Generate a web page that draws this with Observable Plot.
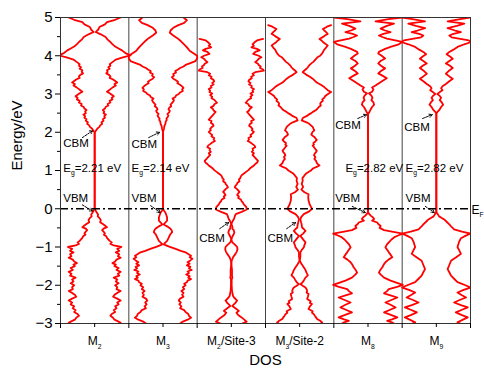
<!DOCTYPE html>
<html><head><meta charset="utf-8">
<script src="https://cdn.jsdelivr.net/npm/d3@7"></script>
<script src="https://cdn.jsdelivr.net/npm/@observablehq/plot@0.6"></script>
<style>
body{margin:0;background:#fff;}
svg{font-family:"Liberation Sans",Arial,sans-serif;}
</style>
</head><body><div id="chart"></div>
<script>
// ---------- data ----------
const panelLabels = ["M_2", "M_3", "M_2/Site-3", "M_3/Site-2", "M_8", "M_9"];
const yMajorTicks = [-3, -2, -1, 0, 1, 2, 3, 4, 5];
const yMinorTicks = [-2.5, -1.5, -0.5, 0.5, 1.5, 2.5, 3.5, 4.5];
const gapLabels = ["E_g=2.21 eV", "E_g=2.14 eV", "E_g=2.82 eV", "E_g=2.82 eV"];

// [energy (eV), DOS half-width (fraction of half panel)]
const dosM2 = [[5.0,0.76],[4.94,0.6],[4.88,0.36],[4.82,0.3],[4.75,0.14],[4.68,0.1],[4.62,0.03],[4.56,0.18],[4.49,0.32],[4.42,0.38],[4.36,0.46],[4.31,0.51],[4.24,0.6],[4.19,0.7],[4.14,0.8],[4.07,0.9],[4.01,1.05],[3.95,0.8],[3.9,0.62],[3.86,0.56],[3.82,0.5],[3.78,0.44],[3.74,0.46],[3.7,0.4],[3.66,0.44],[3.62,0.36],[3.58,0.38],[3.54,0.34],[3.5,0.42],[3.46,0.46],[3.42,0.44],[3.38,0.54],[3.34,0.6],[3.3,0.66],[3.26,0.58],[3.22,0.62],[3.18,0.54],[3.14,0.48],[3.1,0.42],[3.06,0.36],[3.02,0.44],[2.98,0.5],[2.94,0.56],[2.9,0.5],[2.86,0.52],[2.82,0.44],[2.78,0.46],[2.74,0.38],[2.7,0.4],[2.66,0.32],[2.62,0.3],[2.58,0.24],[2.54,0.28],[2.5,0.26],[2.46,0.33],[2.42,0.28],[2.38,0.3],[2.34,0.24],[2.3,0.26],[2.26,0.2],[2.22,0.22],[2.18,0.16],[2.14,0.14],[2.1,0.08],[2.06,0.05],[2.02,0.02],[2.0,0],[0,0],[-0.05,0.03],[-0.1,0.06],[-0.15,0.1],[-0.2,0.09],[-0.25,0.15],[-0.3,0.18],[-0.35,0.16],[-0.4,0.24],[-0.44,0.3],[-0.48,0.36],[-0.52,0.26],[-0.56,0.22],[-0.6,0.26],[-0.64,0.3],[-0.68,0.27],[-0.72,0.34],[-0.76,0.36],[-0.8,0.4],[-0.84,0.44],[-0.88,0.5],[-0.92,0.46],[-0.96,0.56],[-1.0,0.78],[-1.05,0.66],[-1.1,0.72],[-1.14,0.62],[-1.19,0.72],[-1.24,0.68],[-1.28,0.76],[-1.33,0.64],[-1.38,0.6],[-1.42,0.52],[-1.46,0.62],[-1.5,0.58],[-1.55,0.7],[-1.6,0.64],[-1.65,0.76],[-1.7,0.68],[-1.75,0.72],[-1.8,0.56],[-1.85,0.66],[-1.9,0.62],[-1.95,0.7],[-2.0,0.6],[-2.05,0.66],[-2.1,0.64],[-2.15,0.76],[-2.2,0.66],[-2.25,0.58],[-2.3,0.54],[-2.35,0.66],[-2.4,0.76],[-2.45,0.66],[-2.5,0.7],[-2.55,0.6],[-2.6,0.64],[-2.65,0.56],[-2.7,0.6],[-2.75,0.5],[-2.8,0.46],[-2.85,0.54],[-2.9,0.58],[-2.95,0.7],[-2.98,0.76],[-3.0,0.7]];

const dosM3 = [[5.0,0.6],[4.93,0.7],[4.86,0.62],[4.8,0.45],[4.73,0.3],[4.66,0.22],[4.6,0.2],[4.53,0.3],[4.46,0.42],[4.4,0.5],[4.33,0.58],[4.26,0.66],[4.2,0.72],[4.13,0.78],[4.06,0.9],[4.0,1.0],[3.93,1.0],[3.86,0.95],[3.8,0.78],[3.76,0.66],[3.72,0.6],[3.68,0.5],[3.64,0.44],[3.6,0.36],[3.56,0.38],[3.52,0.3],[3.48,0.32],[3.44,0.26],[3.4,0.3],[3.36,0.38],[3.32,0.44],[3.28,0.42],[3.24,0.5],[3.2,0.56],[3.16,0.6],[3.12,0.56],[3.08,0.58],[3.04,0.5],[3.0,0.46],[2.96,0.38],[2.92,0.36],[2.88,0.28],[2.84,0.32],[2.8,0.3],[2.76,0.26],[2.72,0.22],[2.68,0.24],[2.64,0.18],[2.6,0.16],[2.56,0.2],[2.52,0.18],[2.48,0.13],[2.44,0.16],[2.4,0.14],[2.36,0.1],[2.32,0.11],[2.28,0.08],[2.22,0.07],[2.16,0.04],[2.1,0.03],[2.04,0.01],[2.0,0],[0,0],[-0.05,0.03],[-0.1,0.07],[-0.17,0.1],[-0.23,0.12],[-0.31,0.12],[-0.36,0.07],[-0.41,0.02],[-0.46,0.12],[-0.52,0.22],[-0.56,0.25],[-0.61,0.27],[-0.66,0.22],[-0.71,0.19],[-0.77,0.16],[-0.84,0.12],[-0.89,0.06],[-0.93,0.02],[-0.99,0.18],[-1.05,0.37],[-1.1,0.52],[-1.14,0.66],[-1.19,0.75],[-1.23,0.82],[-1.27,0.78],[-1.31,0.86],[-1.35,0.8],[-1.4,0.72],[-1.44,0.78],[-1.48,0.7],[-1.52,0.8],[-1.56,0.76],[-1.6,0.84],[-1.64,0.72],[-1.68,0.76],[-1.72,0.68],[-1.76,0.78],[-1.8,0.74],[-1.84,0.82],[-1.88,0.72],[-1.92,0.7],[-1.96,0.62],[-2.0,0.66],[-2.05,0.58],[-2.1,0.62],[-2.15,0.54],[-2.2,0.6],[-2.25,0.56],[-2.3,0.6],[-2.35,0.5],[-2.4,0.46],[-2.45,0.52],[-2.5,0.48],[-2.55,0.54],[-2.6,0.5],[-2.65,0.62],[-2.7,0.66],[-2.75,0.74],[-2.8,0.76],[-2.85,0.82],[-2.9,0.72],[-2.95,0.58],[-3.0,0.5]];

const dosM2Site3 = [[4.44,0.93],[4.4,0.75],[4.36,0.69],[4.3,0.62],[4.26,0.66],[4.22,0.59],[4.18,0.75],[4.14,0.83],[4.1,0.7],[4.05,0.64],[4.0,0.8],[3.96,0.88],[3.92,0.8],[3.88,0.76],[3.83,0.7],[3.79,0.78],[3.76,0.8],[3.72,0.86],[3.68,0.84],[3.64,0.93],[3.61,0.95],[3.57,0.7],[3.53,0.62],[3.49,0.66],[3.45,0.58],[3.41,0.6],[3.37,0.52],[3.33,0.5],[3.29,0.56],[3.25,0.52],[3.21,0.6],[3.17,0.58],[3.13,0.66],[3.09,0.62],[3.05,0.64],[3.01,0.56],[2.97,0.62],[2.93,0.56],[2.89,0.58],[2.85,0.5],[2.81,0.46],[2.77,0.42],[2.73,0.5],[2.69,0.52],[2.65,0.6],[2.61,0.54],[2.57,0.52],[2.53,0.46],[2.49,0.5],[2.45,0.54],[2.41,0.58],[2.37,0.62],[2.33,0.66],[2.29,0.58],[2.25,0.6],[2.21,0.54],[2.17,0.52],[2.13,0.58],[2.09,0.62],[2.05,0.6],[2.01,0.66],[1.97,0.62],[1.93,0.56],[1.89,0.58],[1.85,0.5],[1.81,0.52],[1.77,0.48],[1.73,0.56],[1.69,0.62],[1.65,0.68],[1.61,0.7],[1.57,0.62],[1.53,0.64],[1.49,0.6],[1.45,0.66],[1.41,0.62],[1.37,0.66],[1.33,0.7],[1.29,0.74],[1.25,0.78],[1.21,0.76],[1.17,0.7],[1.13,0.66],[1.09,0.6],[1.05,0.54],[1.01,0.5],[0.97,0.44],[0.93,0.38],[0.89,0.32],[0.85,0.28],[0.8,0.26],[0.76,0.22],[0.72,0.24],[0.68,0.18],[0.64,0.16],[0.6,0.12],[0.56,0.1],[0.52,0.16],[0.48,0.2],[0.44,0.24],[0.4,0.2],[0.36,0.17],[0.32,0.22],[0.28,0.2],[0.24,0.28],[0.2,0.3],[0.16,0.34],[0.12,0.36],[0.08,0.4],[0.04,0.44],[-0.02,0.45],[-0.08,0.3],[-0.14,0.13],[-0.2,0.1],[-0.26,0.08],[-0.32,0.04],[-0.4,0.0],[-0.46,0.03],[-0.52,0.03],[-0.56,0.07],[-0.62,0.09],[-0.68,0.06],[-0.75,0.02],[-0.81,0.0],[-0.88,0.03],[-0.95,0.12],[-1.0,0.17],[-1.06,0.18],[-1.12,0.16],[-1.18,0.12],[-1.27,0.05],[-1.36,0.01],[-1.45,0.0],[-1.6,0.02],[-1.75,0.02],[-1.8,0.03],[-1.85,0.01],[-2.0,0.01],[-2.15,0.02],[-2.28,0.05],[-2.32,0.08],[-2.4,0.17],[-2.46,0.12],[-2.54,0.03],[-2.6,0.12],[-2.67,0.22],[-2.72,0.15],[-2.78,0.2],[-2.84,0.3],[-2.9,0.38],[-2.95,0.45],[-3.0,0.32]];

const dosM3Site2 = [[4.8,0.92],[4.76,0.8],[4.7,0.68],[4.66,0.72],[4.63,0.76],[4.57,0.82],[4.53,0.74],[4.5,0.7],[4.44,0.58],[4.4,0.64],[4.36,0.68],[4.31,0.76],[4.27,0.82],[4.2,0.76],[4.16,0.72],[4.13,0.7],[4.09,0.68],[4.04,0.64],[4.0,0.6],[3.96,0.52],[3.92,0.48],[3.88,0.44],[3.84,0.4],[3.8,0.34],[3.75,0.28],[3.7,0.24],[3.66,0.2],[3.6,0.12],[3.57,0.09],[3.53,0.16],[3.5,0.2],[3.45,0.3],[3.4,0.38],[3.35,0.44],[3.3,0.5],[3.24,0.62],[3.18,0.72],[3.1,0.82],[3.05,0.92],[2.98,0.8],[2.94,0.74],[2.9,0.72],[2.86,0.66],[2.82,0.68],[2.78,0.62],[2.74,0.6],[2.7,0.62],[2.66,0.56],[2.62,0.52],[2.58,0.48],[2.54,0.4],[2.5,0.34],[2.46,0.26],[2.42,0.2],[2.38,0.1],[2.31,0.06],[2.26,0.2],[2.22,0.28],[2.18,0.33],[2.14,0.38],[2.1,0.4],[2.05,0.43],[2.01,0.38],[1.98,0.36],[1.94,0.34],[1.91,0.38],[1.87,0.44],[1.84,0.46],[1.8,0.5],[1.76,0.46],[1.72,0.4],[1.68,0.42],[1.65,0.38],[1.61,0.42],[1.56,0.46],[1.52,0.5],[1.48,0.48],[1.44,0.44],[1.4,0.42],[1.35,0.46],[1.3,0.43],[1.25,0.48],[1.2,0.5],[1.16,0.54],[1.13,0.58],[1.09,0.48],[1.06,0.4],[1.0,0.33],[0.93,0.2],[0.87,0.14],[0.8,0.08],[0.73,0.09],[0.65,0.06],[0.57,0.1],[0.5,0.05],[0.43,0.14],[0.38,0.26],[0.3,0.25],[0.21,0.26],[0.1,0.3],[0.0,0.36],[-0.07,0.28],[-0.14,0.12],[-0.21,0.05],[-0.27,0.02],[-0.35,0.04],[-0.42,0.06],[-0.49,0.07],[-0.53,0.12],[-0.58,0.17],[-0.65,0.1],[-0.71,0.02],[-0.8,0.1],[-0.88,0.17],[-0.95,0.14],[-1.01,0.12],[-1.08,0.06],[-1.14,0.02],[-1.25,0.02],[-1.36,0.0],[-1.45,0.06],[-1.53,0.12],[-1.6,0.17],[-1.67,0.2],[-1.74,0.24],[-1.8,0.17],[-1.86,0.13],[-1.93,0.08],[-1.97,0.02],[-2.02,0.1],[-2.06,0.17],[-2.1,0.2],[-2.15,0.22],[-2.19,0.2],[-2.23,0.26],[-2.3,0.24],[-2.36,0.22],[-2.42,0.32],[-2.46,0.3],[-2.49,0.36],[-2.55,0.3],[-2.62,0.26],[-2.68,0.38],[-2.72,0.36],[-2.75,0.41],[-2.82,0.46],[-2.88,0.51],[-2.93,0.6],[-2.97,0.66],[-3.0,0.62]];

const dosM8 = [[5.0,1.0],[4.96,0.6],[4.9,0.22],[4.84,0.76],[4.78,0.55],[4.71,0.37],[4.66,0.5],[4.62,0.66],[4.57,0.45],[4.53,0.32],[4.49,0.42],[4.45,0.55],[4.4,0.8],[4.36,1.0],[4.3,0.9],[4.23,0.66],[4.18,0.5],[4.14,0.41],[4.1,0.32],[4.06,0.3],[4.0,0.4],[3.93,0.5],[3.87,0.38],[3.8,0.3],[3.74,0.38],[3.67,0.5],[3.6,0.38],[3.54,0.3],[3.48,0.42],[3.41,0.55],[3.34,0.42],[3.28,0.32],[3.22,0.22],[3.17,0.12],[3.12,0.16],[3.06,0.12],[3.02,0.03],[2.96,0.1],[2.9,0.13],[2.84,0.1],[2.78,0.16],[2.72,0.18],[2.66,0.12],[2.6,0.08],[2.53,0.04],[2.47,0],[-0.09,0],[-0.14,0.04],[-0.18,0.08],[-0.22,0.14],[-0.27,0.18],[-0.31,0.12],[-0.36,0.27],[-0.4,0.3],[-0.45,0.37],[-0.5,0.34],[-0.56,0.47],[-0.6,0.7],[-0.65,1.02],[-0.7,0.88],[-0.75,0.76],[-0.81,0.68],[-0.88,0.61],[-0.94,0.55],[-1.01,0.51],[-1.07,0.56],[-1.14,0.61],[-1.2,0.66],[-1.27,0.71],[-1.33,0.6],[-1.4,0.51],[-1.46,0.46],[-1.53,0.42],[-1.6,0.36],[-1.67,0.32],[-1.73,0.38],[-1.8,0.47],[-1.88,0.66],[-1.94,0.85],[-1.99,1.02],[-2.04,0.85],[-2.1,0.61],[-2.16,0.55],[-2.21,0.47],[-2.27,0.68],[-2.32,0.86],[-2.38,0.7],[-2.45,0.51],[-2.51,0.66],[-2.58,0.81],[-2.64,0.65],[-2.71,0.47],[-2.77,0.65],[-2.84,0.86],[-2.89,0.7],[-2.93,0.56],[-2.97,0.7],[-3.0,0.76]];

const dosM9 = [[5.0,1.0],[4.96,0.7],[4.9,0.33],[4.84,0.82],[4.78,0.6],[4.72,0.33],[4.66,0.55],[4.62,0.72],[4.57,0.5],[4.53,0.38],[4.48,0.45],[4.44,0.7],[4.4,0.95],[4.36,1.02],[4.3,0.82],[4.23,0.62],[4.16,0.5],[4.1,0.38],[4.04,0.3],[3.98,0.4],[3.92,0.48],[3.86,0.38],[3.8,0.28],[3.74,0.4],[3.68,0.48],[3.6,0.36],[3.53,0.28],[3.46,0.38],[3.4,0.48],[3.32,0.36],[3.26,0.28],[3.2,0.18],[3.15,0.14],[3.1,0.18],[3.05,0.1],[3.0,0.03],[2.95,0.1],[2.9,0.14],[2.84,0.1],[2.78,0.16],[2.72,0.2],[2.66,0.14],[2.6,0.1],[2.54,0.04],[2.49,0],[-0.09,0],[-0.14,0.04],[-0.2,0.08],[-0.24,0.16],[-0.28,0.23],[-0.34,0.3],[-0.41,0.38],[-0.47,0.44],[-0.54,0.52],[-0.6,0.75],[-0.65,1.0],[-0.71,0.85],[-0.77,0.72],[-0.88,0.66],[-1.0,0.62],[-1.09,0.67],[-1.18,0.72],[-1.27,0.58],[-1.36,0.43],[-1.47,0.38],[-1.58,0.33],[-1.66,0.38],[-1.75,0.43],[-1.83,0.52],[-1.92,0.62],[-2.0,0.85],[-2.06,1.0],[-2.12,0.8],[-2.19,0.62],[-2.26,0.75],[-2.32,0.87],[-2.38,0.7],[-2.45,0.52],[-2.52,0.72],[-2.58,0.92],[-2.64,0.75],[-2.71,0.57],[-2.78,0.75],[-2.84,0.92],[-2.9,0.78],[-2.97,0.62],[-3.0,0.7]];

const panelDos = [dosM2, dosM3, dosM2Site3, dosM3Site2, dosM8, dosM9];

// ---------- build line table (mirrored about each panel centre) ----------
const lineRows = [];
panelDos.forEach((dos, i) => {
  [-1, 1].forEach(side => {
    dos.forEach(([e, w]) => lineRows.push({x: i + 0.5 + side * w * 0.5, e, key: i + ":" + side}));
  });
});

const notes = [
  {x: 0.04, y: 1.71, t: "CBM"}, {x: 0.04, y: 1.07, t: gapLabels[0]}, {x: 0.04, y: 0.28, t: "VBM"},
  {x: 1.04, y: 1.69, t: "CBM"}, {x: 1.04, y: 1.07, t: gapLabels[1]}, {x: 1.04, y: 0.28, t: "VBM"},
  {x: 2.03, y: -0.76, t: "CBM"},
  {x: 3.03, y: -0.76, t: "CBM"},
  {x: 4.02, y: 2.17, t: "CBM"}, {x: 4.17, y: 1.07, t: gapLabels[2]}, {x: 4.02, y: 0.28, t: "VBM"},
  {x: 5.03, y: 2.12, t: "CBM"}, {x: 5.05, y: 1.07, t: gapLabels[3]}, {x: 5.05, y: 0.28, t: "VBM"}
];
const arrows = [
  {x1: 0.32, y1: 1.86, x2: 0.47, y2: 2.04}, {x1: 0.32, y1: 0.1, x2: 0.47, y2: -0.06},
  {x1: 1.29, y1: 1.86, x2: 1.45, y2: 2.0}, {x1: 1.32, y1: 0.08, x2: 1.46, y2: -0.1},
  {x1: 2.33, y1: -0.52, x2: 2.46, y2: -0.36},
  {x1: 3.31, y1: -0.52, x2: 3.44, y2: -0.36},
  {x1: 4.35, y1: 2.36, x2: 4.48, y2: 2.46}, {x1: 4.27, y1: 0.06, x2: 4.46, y2: -0.1},
  {x1: 5.3, y1: 2.36, x2: 5.44, y2: 2.46}, {x1: 5.34, y1: 0.06, x2: 5.47, y2: -0.1}
];

const plot = Plot.plot({
  width: 484, height: 370,
  marginLeft: 60, marginRight: 14, marginTop: 17, marginBottom: 47,
  x: {domain: [0, 6], axis: null},
  y: {domain: [-3, 5], axis: null},
  style: {fontFamily: '"Liberation Sans", Arial, sans-serif', background: "white", overflow: "visible", fontSize: "11px"},
  marks: [
    Plot.ruleX([1, 2, 3, 4, 5], {stroke: "#444", strokeWidth: 1}),
    Plot.line(lineRows, {x: "x", y: "e", z: "key", stroke: "#ff0000", strokeWidth: 1.8, clip: true}),
    Plot.ruleY([0], {stroke: "black", strokeWidth: 1.6, strokeDasharray: "8,3,2,3"}),
    Plot.frame({stroke: "#333", strokeWidth: 1}),
    Plot.axisY({ticks: yMajorTicks, tickSize: 5, tickPadding: 3, fontSize: 15, label: null}),
    Plot.axisY({ticks: yMinorTicks, tickSize: 3, tickFormat: () => "", label: null}),
    Plot.axisX({ticks: [0, 1, 2, 3, 4, 5, 6], tickSize: 5, tickFormat: () => "", label: null}),
    Plot.axisX({ticks: [0.5, 1.5, 2.5, 3.5, 4.5, 5.5], tickSize: 4, tickPadding: 9, fontSize: 12,
                tickFormat: d => panelLabels[Math.floor(d)], label: null}),
    Plot.text(["Energy/eV"], {frameAnchor: "left", rotate: -90, dx: -43, fontSize: 15}),
    Plot.text(["DOS"], {frameAnchor: "bottom", dy: 41, fontSize: 15}),
    Plot.text(["E_F"], {x: 6, y: 0, textAnchor: "start", dx: 1, dy: 1, fontSize: 12}),
    Plot.text(notes, {x: "x", y: "y", text: "t", textAnchor: "start", fontSize: 11.5, fill: "black"}),
    Plot.arrow(arrows, {x1: "x1", y1: "y1", x2: "x2", y2: "y2", stroke: "black", strokeWidth: 1, headLength: 5, strokeDasharray: "2,1.2"})
  ]
});

// subscripts: "_x" -> subscript tspan
plot.querySelectorAll("text").forEach(t => {
  const s = t.textContent;
  if (!s.includes("_")) return;
  const fs = parseFloat(getComputedStyle(t).fontSize) || 11;
  const parts = s.split(/_(.)/);
  t.textContent = "";
  parts.forEach((p, k) => {
    if (!p) return;
    const ts = document.createElementNS("http://www.w3.org/2000/svg", "tspan");
    ts.textContent = p;
    if (k % 2 === 1) {
      ts.setAttribute("font-size", (fs * 0.62).toFixed(1));
      ts.setAttribute("dy", (fs * 0.35).toFixed(1));
    } else if (k > 0) {
      ts.setAttribute("dy", (-fs * 0.35).toFixed(1));
    }
    t.appendChild(ts);
  });
});

document.getElementById("chart").appendChild(plot);
</script>
</body></html>
